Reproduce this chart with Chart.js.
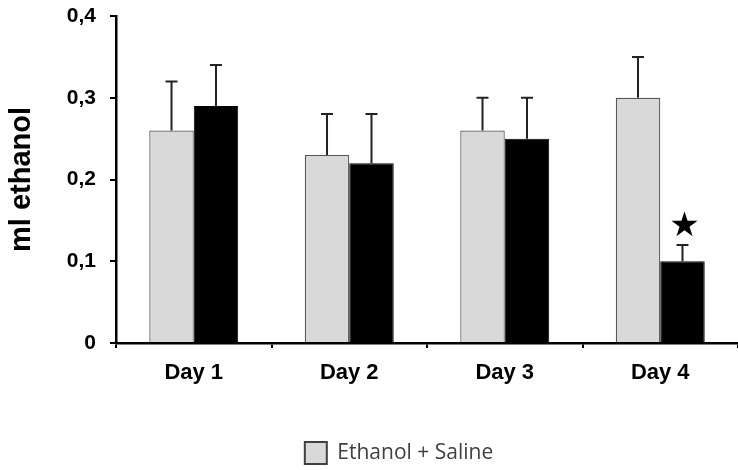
<!DOCTYPE html>
<html>
<head>
<meta charset="utf-8">
<script src="https://cdn.jsdelivr.net/npm/chart.js@4/dist/chart.umd.min.js"></script>
<style>
  html, body { margin: 0; padding: 0; background: #fff; }
  #wrap { width: 738px; height: 470px; }
</style>
</head>
<body>
<div id="wrap"><canvas id="graf" width="738" height="470"></canvas></div>
<script>
// valores
var dias = ['Day 1', 'Day 2', 'Day 3', 'Day 4'];
var salinaMedia = [0.26, 0.23, 0.26, 0.30];
var salinaErro = [0.06, 0.05, 0.04, 0.05];
var tratMedia = [0.29, 0.22, 0.25, 0.10];
var tratErro = [0.05, 0.06, 0.05, 0.02];
var tratMarca = ['', '', '', '★'];
var yTicks = [0, 0.1, 0.2, 0.3, 0.4];

var negrito = { family: 'Liberation Sans, Arial, sans-serif', weight: 'bold' };

// barras de erro (so para cima) e estrela de significancia
var errosPlugin = {
    id: 'erros',
    afterDatasetsDraw: function(chart) {
        var ctx = chart.ctx;
        var y = chart.scales.y;
        ctx.save();
        chart.data.datasets.forEach(function(ds, i) {
            var meta = chart.getDatasetMeta(i);
            meta.data.forEach(function(bar, j) {
                var topo = y.getPixelForValue(ds.data[j] + ds.erros[j]);
                ctx.strokeStyle = '#222';
                ctx.lineWidth = 2;
                ctx.beginPath();
                ctx.moveTo(bar.x, bar.y);
                ctx.lineTo(bar.x, topo);
                ctx.moveTo(bar.x - 6, topo);
                ctx.lineTo(bar.x + 6, topo);
                ctx.stroke();
                if (ds.marcas && ds.marcas[j]) {
                    ctx.fillStyle = '#000';
                    ctx.font = '34px "DejaVu Sans"';
                    ctx.textAlign = 'center';
                    ctx.textBaseline = 'middle';
                    ctx.fillText(ds.marcas[j], bar.x + 2, topo - 18);
                }
            });
        });
        ctx.restore();
    }
};

// a legenda original fica deslocada para a direita e um pouco mais abaixo
var legendaPlugin = {
    id: 'legendaDesloc',
    afterLayout: function(chart) {
        var dx = 30, dy = 4;
        chart.legend.left += dx;
        chart.legend.right += dx;
        chart.legend.top += dy;
        chart.legend.bottom += dy;
    }
};

new Chart(document.getElementById('graf'), {
    type: 'bar',
    data: {
        labels: dias,
        datasets: [{
            label: 'Ethanol + Saline',
            data: salinaMedia,
            erros: salinaErro,
            backgroundColor: '#d9d9d9',
            borderColor: '#555',
            borderWidth: 1.2
        }, {
            label: 'Ethanol + Treatment',
            data: tratMedia,
            erros: tratErro,
            marcas: tratMarca,
            backgroundColor: '#000',
            borderColor: '#000',
            borderWidth: 1
        }]
    },
    options: {
        responsive: false,
        animation: false,
        devicePixelRatio: 1,
        layout: { padding: { top: 16, right: 0, bottom: 0, left: 0 } },
        datasets: { bar: { categoryPercentage: 0.572, barPercentage: 1 } },
        scales: {
            x: {
                afterFit: function(s) { s.height = 92; },
                border: { color: '#000', width: 2.5 },
                grid: { offset: true, drawOnChartArea: false, drawTicks: true, tickLength: 5, color: '#000', lineWidth: 2 },
                ticks: { color: '#000', padding: 12, font: Object.assign({ size: 22 }, negrito) }
            },
            y: {
                min: 0,
                max: 0.4,
                afterFit: function(s) { s.width = 116; s.paddingTop = 0; s.paddingBottom = 0; },
                afterBuildTicks: function(s) { s.ticks = yTicks.map(function(v) { return { value: v }; }); },
                border: { color: '#000', width: 2.5 },
                grid: { drawOnChartArea: false, drawTicks: true, tickLength: 6, color: '#000', lineWidth: 2 },
                ticks: {
                    color: '#000',
                    padding: 14,
                    font: Object.assign({ size: 21 }, negrito),
                    callback: function(v) { return v === 0 ? '0' : v.toFixed(1).replace('.', ','); }
                },
                title: {
                    display: true,
                    text: 'ml ethanol',
                    color: '#000',
                    padding: { top: 5, bottom: 0 },
                    font: Object.assign({ size: 29 }, negrito)
                }
            }
        },
        plugins: {
            legend: {
                position: 'bottom',
                labels: {
                    boxWidth: 22,
                    boxHeight: 22,
                    padding: 3,
                    color: '#404040',
                    font: { family: 'Open Sans', size: 21 },
                    filter: function(item) { return item.datasetIndex === 0; },
                    generateLabels: function(chart) {
                        return chart.data.datasets.map(function(ds, i) {
                            return {
                                text: ds.label,
                                fillStyle: ds.backgroundColor,
                                strokeStyle: '#404040',
                                lineWidth: 2,
                                datasetIndex: i,
                                fontColor: '#404040'
                            };
                        });
                    }
                }
            },
            tooltip: { enabled: false }
        }
    },
    plugins: [errosPlugin, legendaPlugin]
});
</script>
</body>
</html>
